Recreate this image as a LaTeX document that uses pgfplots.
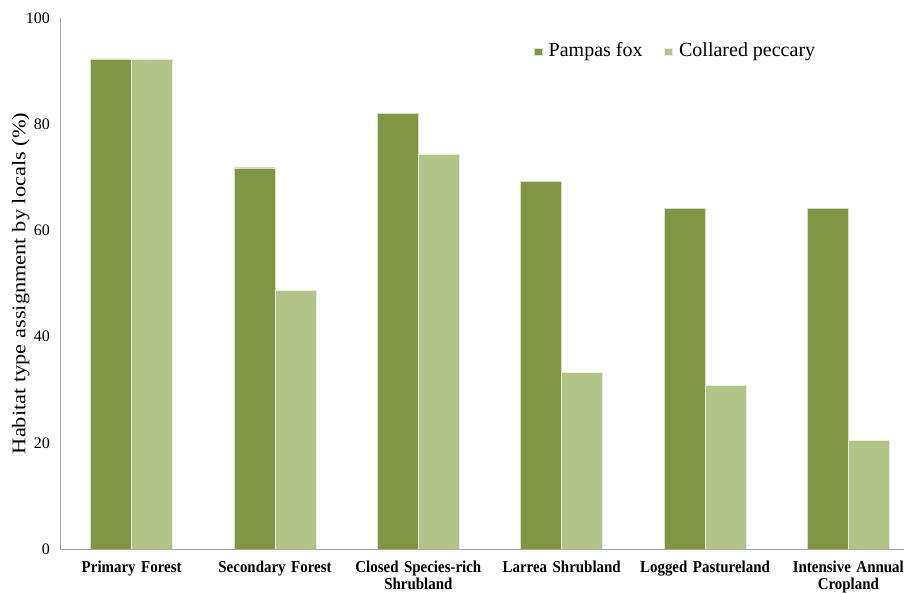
\documentclass[border=0pt]{standalone}
\usepackage{fontspec}
\setmainfont{Liberation Serif}
\newfontfamily\xlab[FakeStretch=0.9]{Liberation Serif}
\newfontfamily\ylab[FakeStretch=1.16]{Liberation Serif}
\usepackage{pgfplots}
\pgfplotsset{compat=1.18}
\definecolor{dark}{RGB}{128,150,68}
\definecolor{light}{RGB}{179,196,137}
\begin{document}
\begin{tikzpicture}
\useasboundingbox (0,0) rectangle (904pt,593pt);
\begin{axis}[
  at={(60pt,44pt)}, anchor=south west,
  scale only axis, width=860pt, height=531pt,
  xmin=-0.5, xmax=5.5, ymin=0, ymax=100,
  axis x line*=bottom, axis y line*=left,
  axis line style={draw=black!35, line width=0.8pt, -},
  ytick={0,20,...,100},
  major tick length=0pt,
  yticklabel style={font=\fontsize{16}{18}\selectfont, xshift=-6.5pt},
  /pgf/number format/assume math mode=true,
  xtick=data,
  xticklabels={Primary Forest, Secondary Forest, {Closed Species-rich\\Shrubland}, Larrea Shrubland, Logged Pastureland, {Intensive Annual\\Cropland}},
  xticklabel style={font=\xlab\bfseries\fontsize{16.6}{17.5}\selectfont, align=center, text width=150pt, yshift=-8pt},
  ylabel={Habitat type assignment by locals (\%)},
  ylabel style={font=\ylab\fontsize{19.3}{21}\selectfont, at={(axis description cs:0,0.5)}, anchor=south, yshift=27pt},
  ybar=0pt, bar width=41pt,
  legend style={draw=none, fill=none, at={(0.539,0.94)}, anchor=west, legend columns=2, font=\fontsize{20}{22}\selectfont, column sep=12.5pt},
  legend image code/.code={\path[draw=none, fill=none] (0pt,-5.5pt) rectangle (7.5pt,2pt); \fill[#1, overlay] (7.5pt,-5.5pt) rectangle (15pt,2pt);},
]
\addplot[fill=dark, draw=white!70!dark, line width=0.4pt] coordinates {(0,92.3) (1,71.8) (2,82.1) (3,69.2) (4,64.1) (5,64.1)};
\addplot[fill=light, draw=white!70!light, line width=0.4pt] coordinates {(0,92.3) (1,48.7) (2,74.4) (3,33.3) (4,30.8) (5,20.5)};
\legend{Pampas fox, Collared peccary}
\end{axis}
\end{tikzpicture}
\end{document}
